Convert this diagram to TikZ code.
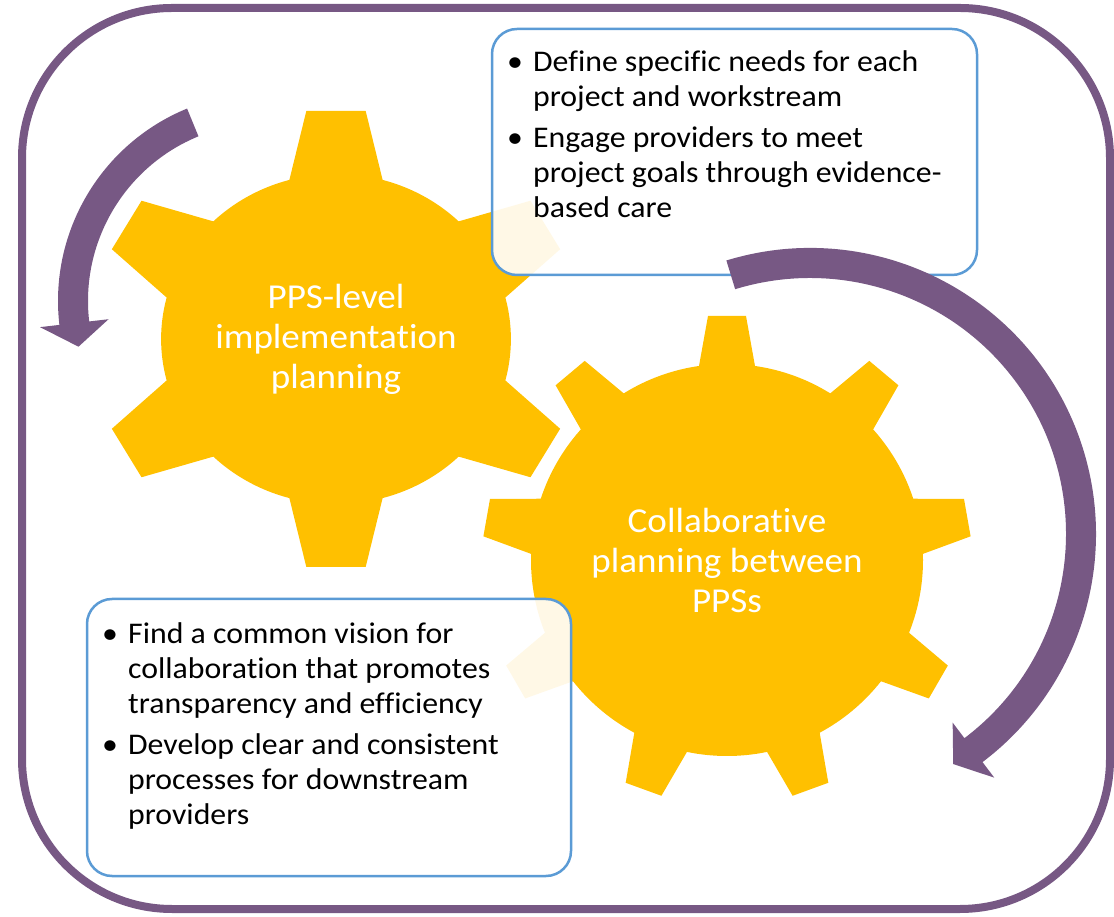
\documentclass[tikz,border=0pt]{standalone}
\usepackage{fontspec}
\setmainfont{Carlito}[Ligatures=NoCommon,FakeStretch=1.06]
\definecolor{gearGold}{HTML}{FFC000}
\definecolor{cyclePurple}{HTML}{775884}
\definecolor{boxBlue}{HTML}{5B9BD5}
\tikzset{
  gearfill/.style={fill=gearGold},
  arrowfill/.style={fill=cyclePurple},
  infobox/.style={draw=boxBlue,line width=2.5pt,fill=white,fill opacity=0.9,
    rounded corners=25pt,inner sep=0pt},
  gearlabel/.style={text=white,align=center,font=\fontsize{35}{40}\selectfont},
  bullets/.style={anchor=base west,inner sep=0pt,font=\fontsize{30}{35}\selectfont},
}
\newcommand{\bul}{\makebox[26pt][l]{\textbullet}}

\begin{document}
\begin{tikzpicture}[x=1pt,y=1pt,line cap=round,line join=round]
  \useasboundingbox (0,0) rectangle (1114,916);
  \draw[cyclePurple,line width=8pt,rounded corners=150pt] (22,7) rectangle (1110,908);

  % left arrow
  \begin{scope}[shift={(266,615)}]
    \fill[arrowfill] (112.3:208) arc[start angle=112.3,end angle=186.6,radius=208]
      -- (186.6:227.5) -- (193.7:193) -- (186.6:158.5) -- (186.6:178)
      arc[start angle=186.6,end angle=112.3,radius=178] -- cycle;
  \end{scope}

  % gears
  \coordinate (gearA) at (336,577);
  \coordinate (gearB) at (727,356);
  \begin{scope}[shift={(gearA)},xscale=1.06]
    \fill[gearfill] (0,0) circle (165);
    \foreach \a in {30,90,...,330}
      \fill[gearfill,rotate=\a-90] (0,0) -- (-44,159) -- (-28,228) -- (28,228) -- (44,159) -- cycle;
  \end{scope}
  \begin{scope}[shift={(gearB)}]
    \fill[gearfill] (0,0) circle (196);
    \foreach \a in {90,130,...,410}
      \fill[gearfill,rotate=\a-90] (0,0) -- (-28,194) -- (-19,244) -- (19,244) -- (28,194) -- cycle;
  \end{scope}
  \node[gearlabel] (levelLabel) at (gearA) {PPS-level\\implementation\\planning};
  \node[gearlabel] (collabLabel) at (gearB) {Collaborative\\planning between\\PPSs};

  % text boxes
  \node[infobox,minimum width=485pt,minimum height=246pt] (needsBox) at (734.5,764) {};
  \node[bullets] (needsText) at (507,844) {%
    \begin{tabular}[t]{@{}l@{}l@{}}
      \bul & Define specific needs for each\\
           & project and workstream\\[6pt]
      \bul & Engage providers to meet\\
           & project goals through evidence-\\
           & based care
    \end{tabular}};
  \node[infobox,minimum width=484pt,minimum height=277pt] (visionBox) at (329,178.5) {};
  \node[bullets] (visionText) at (102,272) {%
    \begin{tabular}[t]{@{}l@{}l@{}}
      \bul & Find a common vision for\\
           & collaboration that promotes\\
           & transparency and efficiency\\[6pt]
      \bul & Develop clear and consistent\\
           & processes for downstream\\
           & providers
    \end{tabular}};

  % right arrow
  \begin{scope}[shift={(810,382)}]
    \fill[arrowfill] (107:286) arc[start angle=107,end angle=-52.9,radius=286]
      -- (-52.9:305.5) -- (-58.1:271) -- (-52.9:236.5) -- (-52.9:256)
      arc[start angle=-52.9,end angle=107,radius=256] -- cycle;
  \end{scope}
\end{tikzpicture}
\end{document}
